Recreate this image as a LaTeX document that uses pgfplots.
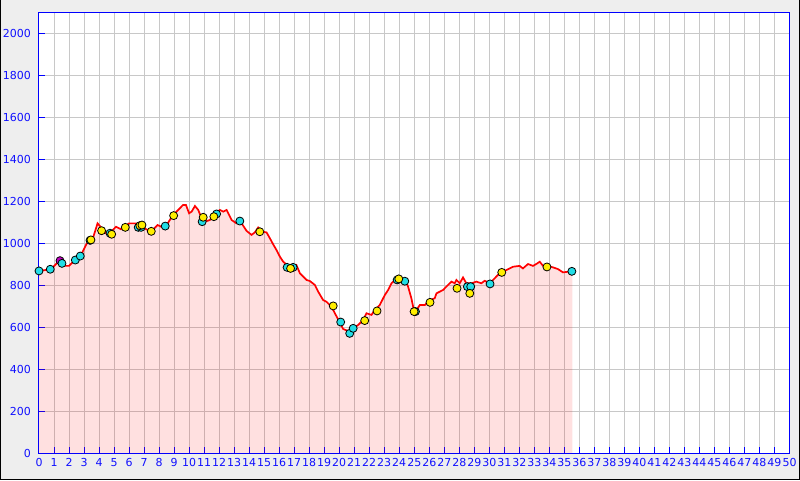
\documentclass[border=0pt]{standalone}
\usepackage{fontspec}
\setmainfont{DejaVu Sans}
\usepackage{pgfplots}
\pgfplotsset{compat=1.18}
\usepackage{pgfplotstable}
\definecolor{bg}{HTML}{EEEEEE}
\definecolor{gridc}{HTML}{C8C8C8}
\definecolor{axblue}{HTML}{0000FF}
\definecolor{lblblue}{HTML}{1010FF}
\definecolor{mkyellow}{HTML}{FFEE00}
\definecolor{mkcyan}{HTML}{22DDE6}
\definecolor{mkmag}{HTML}{C000C0}

% elevation profile
\pgfplotstableread{
x y
0 869
0.8 877
1.35 918
1.8 893
2.0 893
2.35 918
2.8 945
3.13 993
3.35 1020
3.57 1020
3.9 1096
4.24 1068
4.46 1049
4.8 1056
5.13 1080
5.46 1068
5.68 1080
6.0 1096
6.46 1096
6.9 1077
7.46 1056
7.9 1088
8.24 1077
8.57 1096
8.79 1120
9.05 1144
9.6 1184
9.79 1184
10.0 1144
10.17 1152
10.39 1179
10.61 1160
10.83 1120
11.05 1104
11.38 1112
11.72 1144
12.05 1160
12.27 1152
12.5 1160
12.83 1112
13.16 1096
13.5 1096
13.83 1060
14.16 1041
14.38 1053
14.6 1076
14.89 1056
15.16 1053
15.38 1025
15.6 996
15.82 969
16.05 937
16.27 913
16.6 893
16.93 889
17.15 897
17.38 858
17.6 842
17.82 826
18.04 821
18.38 802
18.6 770
18.93 730
19.15 722
19.49 698
19.71 667
19.93 638
20.26 592
20.6 582
20.93 595
21.26 611
21.6 635
21.82 667
22.15 659
22.37 683
22.7 706
23.04 754
23.26 778
23.48 810
23.81 831
24.15 826
24.43 822
24.59 794
24.81 738
24.97 683
25.15 683
25.37 706
25.7 706
26.03 730
26.36 738
26.48 762
26.92 778
27.25 802
27.48 818
27.7 810
27.81 826
28.03 810
28.25 838
28.47 810
28.81 810
29.14 818
29.47 810
29.69 822
30.03 810
30.36 834
30.69 858
31.14 873
31.58 889
32.02 893
32.24 881
32.58 902
32.91 893
33.13 902
33.36 913
33.58 893
33.91 893
34.24 886
34.57 878
34.91 862
35.24 865
35.53 867
}\profile

\pgfplotstableread{
x y
0 869
0.75 877
1.53 905
2.42 921
2.75 940
3.40 1015
4.73 1049
6.61 1077
6.80 1077
8.41 1083
10.87 1104
11.83 1141
13.38 1107
16.53 886
16.93 886
20.10 625
20.70 571
20.93 595
23.86 826
24.37 820
25.08 675
28.54 794
28.76 794
30.05 807
35.50 867
}\cyanpts

\pgfplotstableread{
x y
3.46 1017
4.17 1061
4.84 1044
5.75 1077
6.72 1085
6.86 1088
7.48 1058
8.97 1133
10.94 1125
11.65 1128
14.71 1056
16.76 881
19.60 702
21.70 632
22.52 678
23.97 831
24.99 675
26.05 719
27.85 786
28.70 762
30.83 862
33.84 888
}\yellowpts

\begin{document}
\begin{tikzpicture}
\fill[bg] (-39pt,-27pt) rectangle (761pt,453pt);
\useasboundingbox (-39pt,-27pt) rectangle (761pt,453pt);
\draw[black, line width=1pt] (-38.5pt,453pt) -- (-38.5pt,-26.5pt) -- (760.5pt,-26.5pt) -- (760.5pt,453pt);
\begin{axis}[
    at={(0pt,0pt)}, anchor=south west,
    scale only axis,
    width=750.5pt, height=440pt,
    xmin=0, xmax=50, ymin=0, ymax=2100,
    xtick={0,1,...,50},
    ytick={0,200,...,2000},
    axis background/.style={fill=white},
    axis line style={axblue, line width=1pt},
    major tick style={axblue, line width=1pt},
    major tick length=6pt,
    tick align=inside,
    tick pos=left,
    grid=major,
    grid style={gridc, line width=1pt},
    scaled ticks=false,
    /pgf/number format/1000 sep={},
    /pgf/number format/assume math mode=true,
    tick label style={font=\fontsize{11}{13}\selectfont, text=lblblue},
    xticklabel style={inner sep=0pt, yshift=-5pt},
    yticklabel style={inner sep=0pt, xshift=-8pt},
    clip=false,
]
\addplot[draw=none, fill=red, fill opacity=0.12] table {\profile} \closedcycle;
\addplot[red, line width=1.7pt] table {\profile};
\addplot[only marks, mark=*, mark size=4pt, mark options={fill=mkmag, draw=black, line width=0.8pt}] coordinates {(1.40,918)};
\addplot[only marks, mark=*, mark size=4pt, mark options={fill=mkcyan, draw=black, line width=0.8pt}] table {\cyanpts};
\addplot[only marks, mark=*, mark size=4pt, mark options={fill=mkyellow, draw=black, line width=0.8pt}] table {\yellowpts};
\end{axis}
\end{tikzpicture}
\end{document}
